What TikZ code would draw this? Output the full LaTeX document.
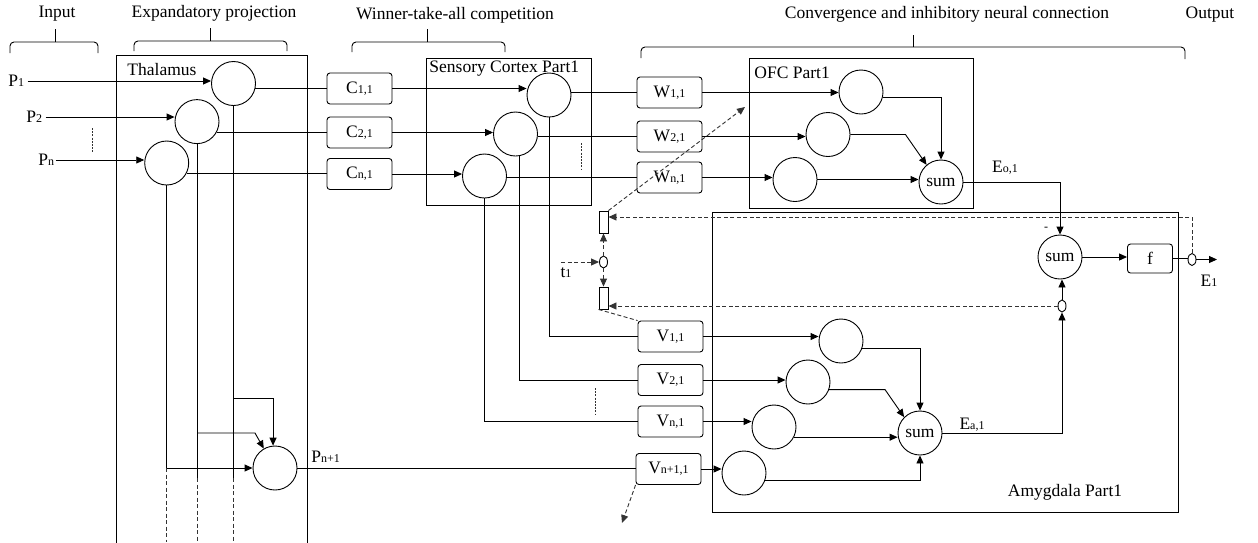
\documentclass[tikz,border=0pt]{standalone}
\usepackage{fontspec}
\setmainfont{Liberation Serif}
\usetikzlibrary{arrows.meta,shapes.geometric}
\newcommand\sbs[1]{{\fontsize{12}{12}\selectfont #1}}
\begin{document}
\begin{tikzpicture}[x=1pt,y=-1pt,line width=0.9pt,
  font=\fontsize{17.5}{20}\selectfont,
  neuron/.style={circle,draw,minimum size=44pt,inner sep=0pt},
  wbox/.style={draw,rounded corners=3pt,minimum width=65pt,minimum height=31pt,inner sep=0pt},
  arr/.style={-{Triangle[length=8pt,width=7pt]}},
  dsh/.style={dash pattern=on 4pt off 2.5pt,draw=black!80},
  fdsh/.style={dash pattern=on 2pt off 1.2pt,line width=0.7pt,draw=black!80},
  tiny/.style={draw,ellipse,minimum width=8pt,minimum height=12pt,inner sep=0pt},
  gate/.style={draw,minimum width=9pt,minimum height=22pt,inner sep=0pt},
  lbl/.style={inner sep=0pt},
  bracket/.style={rounded corners=4pt}]
\fill[white] (0,0) rectangle (1258,542);
\useasboundingbox (0,0) rectangle (1258,542);

% ---- headings
\node[lbl] (inL) at (57,14) {Input};
\node[lbl] (expL) at (214,13) {Expandatory projection};
\node[lbl] (winL) at (455,15) {Winner-take-all competition};
\node[lbl] (conL) at (947,14) {Convergence and inhibitory neural connection};
\node[lbl] (outL) at (1210,15) {Output};

% ---- brackets
\draw[bracket] (10,53) -- (10,42) -- (98,42) -- (98,53); \draw (55,42) -- (55,29);
\draw[bracket] (134,51) -- (134,41) -- (287,41) -- (287,51); \draw (210,41) -- (210,28);
\draw[bracket] (352,52) -- (352,42) -- (505,42) -- (505,52); \draw (427,42) -- (427,29);
\draw[bracket] (641,58) -- (641,47) -- (1185,47) -- (1185,59); \draw (913,47) -- (913,35);

% ---- regions
\draw (116,545) -- (116,55) -- (307,55) -- (307,545);
\node[lbl,anchor=west] (thL) at (127,70) {Thalamus};
\draw (426,58) rectangle (591,205);
\node[lbl,anchor=west] (scL) at (429,69) {Sensory Cortex Part1};
\draw (749,58) rectangle (973,208);
\node[lbl,anchor=west] (ofcL) at (754,73) {OFC Part1};
\draw (712,212) rectangle (1178,512);
\node[lbl] (amL) at (1065,492) {Amygdala Part1};

% ---- inputs
\node[lbl,inner xsep=3pt,anchor=west] (P1) at (5,81) {P\sbs{1}};
\node[lbl,inner xsep=3pt,anchor=west] (P2) at (23,117) {P\sbs{2}};
\node[lbl,inner xsep=1pt,anchor=west] (Pn) at (37,160) {P\sbs{n}};
\draw[fdsh] (92,128) -- (92,153);

% ---- thalamus neurons
\node[neuron] (t1) at (233.5,83.5) {};
\node[neuron] (t2) at (197,121.6) {};
\node[neuron] (t3) at (166.7,163) {};
\node[neuron] (pn1) at (275,468) {};
\node[lbl,anchor=west] (pnL) at (311,457) {P\sbs{n+1}};

\draw[arr] (P1.east) -- (P1.east -| t1.west);
\draw[arr] (P2.east) -- (P2.east -| t2.west);
\draw[arr] (Pn.east) -- (Pn.east -| t3.west);

% ---- C boxes
\node[wbox] (C1) at (359.5,88.5) {C\sbs{1,1}};
\node[wbox] (C2) at (359.5,132.5) {C\sbs{2,1}};
\node[wbox] (Cn) at (359.5,174) {C\sbs{n,1}};
\draw (t1.-13) -- (t1.-13 -| C1.west);
\draw (t2.-28) -- (t2.-28 -| C2.west);
\draw (t3.-28) -- (t3.-28 -| Cn.west);

% ---- thalamus verticals to P_{n+1}
\coordinate (t1end) at (233.5,478); \coordinate (t1bot) at (233.5,542);
\coordinate (t2end) at (197,478);   \coordinate (t2bot) at (197,542);
\coordinate (t3end) at (166.7,468); \coordinate (t3bot) at (166.7,542);
\coordinate (b1) at (233.5,398); \coordinate (b2) at (197,433);
\draw (t1.south) -- (t1end); \draw[dsh] (t1end) -- (t1bot);
\draw (t2.south) -- (t2end); \draw[dsh] (t2end) -- (t2bot);
\draw (t3.south) -- (t3end); \draw[dsh] (t3end) -- (t3bot);
\draw[arr] (b1) -| (pn1.95);
\draw[arr] (b2) -- ++(58,0) -- (pn1.120);
\draw[arr] (t3end) -- (pn1.west);

% ---- sensory cortex neurons
\node[neuron] (sA) at (549,95) {};
\node[neuron] (sB) at (515.5,134) {};
\node[neuron] (sC) at (484.5,176) {};
\draw[arr] (C1.east) -- (C1.east -| sA.west);
\draw[arr] (C2.east) -- (C2.east -| sB.west);
\draw[arr] (Cn.east) -- (Cn.east -| sC.west);
\draw[fdsh] (581,143) -- (581,170);

% ---- W boxes
\node[wbox] (W1) at (669.5,92.5) {W\sbs{1,1}};
\node[wbox] (W2) at (669.5,136.5) {W\sbs{2,1}};
\node[wbox] (Wn) at (669.5,177.5) {W\sbs{n,1}};
\draw (W1.west -| sA.east) -- (W1.west);
\draw (W2.west -| sB.east) -- (W2.west);
\draw (Wn.west -| sC.east) -- (Wn.west);

% ---- OFC
\node[neuron] (o1) at (861,92) {};
\node[neuron] (o2) at (828,134.5) {};
\node[neuron] (o3) at (795,179.5) {};
\node[neuron] (osum) at (941,182) {sum};
\draw[arr] (W1.east) -- (W1.east -| o1.west);
\draw[arr] (W2.east) -- (W2.east -| o2.west);
\draw[arr] (Wn.east) -- (Wn.east -| o3.west);
\draw[arr] (o3.east) -- (o3.east -| osum.west);
\draw[arr] (o1.-15) -| (osum.north);
\draw[arr] (o2.east) -- ++(55,0) -- (osum.130);

% ---- V boxes
\node[wbox] (V1) at (670.5,336.5) {V\sbs{1,1}};
\node[wbox] (V2) at (670.5,380) {V\sbs{2,1}};
\node[wbox] (Vn) at (670.5,421.5) {V\sbs{n,1}};
\node[wbox] (Vp) at (668.5,469) {V\sbs{n+1,1}};
\draw (sA.south) |- (V1.west);
\draw (sB.-80) |- (V2.west);
\draw (sC.south) |- (Vn.west);
\draw (pn1.east) -- (pn1.east -| Vp.west);
\draw[fdsh] (595,388) -- (595,415);

% ---- amygdala
\node[neuron] (a1) at (841,341) {};
\node[neuron] (a2) at (808,382) {};
\node[neuron] (a3) at (774,427) {};
\node[neuron] (a4) at (744,473) {};
\node[neuron] (asum) at (920,433) {sum};
\draw[arr] (V1.east) -- (V1.east -| a1.west);
\draw[arr] (V2.east) -- (V2.east -| a2.west);
\draw[arr] (Vn.east) -- (Vn.east -| a3.west);
\draw[arr] (Vp.east) -- (Vp.east -| a4.west);
\draw[arr] (a1.-20) -| (asum.north);
\draw[arr] (a2.-20) -- ++(56,0) -- (asum.135);
\draw[arr] (a3.-27) -- (a3.-27 -| asum.west);
\draw[arr] (a4.-20) -| (asum.south);
\node[lbl] (eaL) at (972,425) {E\sbs{a,1}};

% ---- output stage
\node[neuron] (sum2) at (1060,257) {sum};
\node[lbl,font=\fontsize{12}{12}\selectfont] (minus) at (1046,229) {-};
\node[draw,rounded corners=3pt,minimum width=45pt,minimum height=29pt,inner sep=0pt] (f) at (1150,258.5) {f};
\node[tiny] (e1) at (1192,259.5) {};
\node[tiny] (e2) at (1062,306) {};
\coordinate (Eout) at (1217,259.5);
\node[lbl] (E1L) at (1209,281) {E\sbs{1}};
\node[lbl] (eoL) at (1005,168) {E\sbs{o,1}};
\draw[arr] (osum.east) -| (sum2.north);
\draw[arr] (sum2.east) -- (sum2.east -| f.west);
\draw (f.east) -- (f.east -| e1.west);
\draw[arr] (e1.east) -- (Eout);
\draw[arr] (asum.east) -| (e2.south);
\draw[arr] (e2.north) -- (e2.north |- sum2.south);

% ---- gating
\node[gate] (r1) at (603.5,222) {};
\node[gate] (r2) at (603.5,298) {};
\node[tiny] (em) at (603.5,262) {};
\coordinate (t1in) at (561,262);
\node[lbl] (t1L) at (566,273) {t\sbs{1}};
\coordinate (fbA) at (1192,217);
\coordinate (wtip) at (745,107);
\coordinate (vdn) at (622,523);
\draw[dsh,arr] (e1.north) -- (fbA) -- (fbA -| r1.east);
\draw[dsh,arr] (e2.west) -- (e2.west -| r2.east);
\draw[dsh,arr] (t1in) -- (em.west);
\draw[dsh,arr] (em.north) -- (r1.south);
\draw[dsh,arr] (em.south) -- (r2.north);
\draw[dsh,arr] (r1.north east) -- (wtip);
\draw[dsh] (r2.south west) -- (V1.north west);
\draw[dsh,arr] (Vp.south west) -- (vdn);
\end{tikzpicture}
\end{document}
